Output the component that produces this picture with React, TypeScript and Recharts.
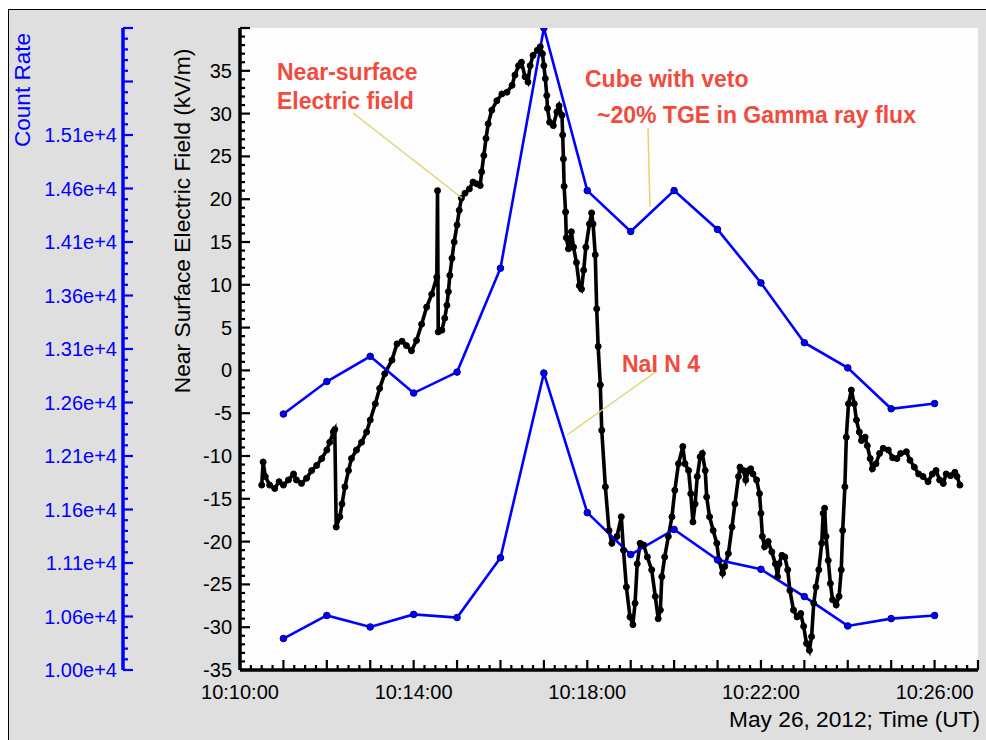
import React from 'react';
import { LineChart, Line, XAxis, YAxis, CartesianGrid } from 'recharts';

// Near-surface electric field samples: [seconds after 10:10:00, kV/m]
const FIELD_SAMPLES: [number, number][] = [
  [30, -13.4], [32, -10.7], [35, -12.4], [41, -13.4], [48, -13.8], [54, -13.0], [60, -13.4], [67, -12.8],
  [74, -12.1], [78, -12.8], [85, -13.2], [92, -12.6], [99, -11.7], [106, -11.1], [113, -10.3], [120, -9.3],
  [124, -8.4], [129, -7.2], [131, -6.9], [133, -18.3], [138, -17.1], [141, -15.6], [145, -13.6], [150, -11.7],
  [154, -10.3], [161, -9.3], [168, -8.4], [175, -7.2], [180, -5.8], [187, -3.9], [193, -2.1], [200, -0.4],
  [210, 1.2], [217, 3.1], [224, 3.4], [230, 2.9], [237, 2.3], [244, 3.5], [251, 5.4], [258, 7.4],
  [265, 8.9], [272, 10.9], [273, 21.0], [274, 4.5], [279, 4.7], [283, 6.1], [286, 7.6], [288, 9.2],
  [290, 11.1], [293, 13.1], [296, 15.0], [300, 17.0], [303, 18.7], [306, 20.1], [311, 20.7], [317, 21.2],
  [322, 22.0], [327, 21.8], [332, 21.6], [334, 23.2], [337, 25.1], [340, 27.1], [343, 28.8], [348, 30.4],
  [355, 31.5], [362, 32.3], [369, 32.5], [376, 33.3], [380, 34.5], [385, 35.6], [389, 36.0], [394, 34.3],
  [398, 33.7], [401, 35.6], [405, 36.8], [411, 37.4], [415, 37.8], [418, 37.0], [420, 35.6], [422, 34.1],
  [424, 32.1], [425, 30.6], [428, 29.0], [433, 28.6], [438, 30.2], [441, 30.9], [445, 29.8], [446, 27.5],
  [447, 24.7], [448, 21.5], [450, 18.5], [451, 15.5], [454, 14.2], [458, 16.2], [461, 14.4], [465, 12.6],
  [469, 9.9], [472, 9.5], [475, 11.7], [478, 14.4], [483, 17.1], [486, 18.4], [488, 17.1], [491, 13.5],
  [493, 7.2], [495, 2.8], [498, -1.7], [500, -7.0], [505, -13.6], [510, -18.7], [514, -20.2], [521, -19.4],
  [527, -17.1], [530, -21.0], [534, -25.3], [539, -28.8], [543, -29.7], [546, -27.2], [549, -22.6], [553, -20.2],
  [558, -20.4], [563, -21.8], [569, -23.3], [574, -26.4], [578, -29.0], [581, -28.0], [583, -24.1], [587, -21.8],
  [592, -19.4], [597, -17.1], [601, -14.0], [606, -10.9], [612, -8.9], [615, -10.9], [620, -11.7], [623, -14.4],
  [626, -17.7], [629, -15.6], [632, -12.4], [636, -10.1], [639, -9.7], [643, -11.7], [645, -14.8], [649, -17.1],
  [654, -18.7], [659, -20.2], [662, -22.2], [667, -23.7], [670, -22.9], [675, -21.4], [680, -18.3], [684, -15.6],
  [689, -12.4], [691, -11.3], [696, -11.7], [699, -12.8], [703, -11.7], [706, -11.5], [709, -12.1], [714, -12.8],
  [718, -14.4], [720, -16.7], [722, -19.4], [725, -20.6], [730, -20.0], [735, -21.2], [740, -22.6], [743, -24.1],
  [745, -22.6], [749, -21.6], [753, -21.8], [757, -23.3], [760, -25.7], [765, -28.0], [770, -28.8], [775, -28.4],
  [779, -29.9], [783, -31.9], [787, -32.7], [790, -31.1], [793, -27.2], [796, -25.3], [800, -23.3], [804, -20.2],
  [806, -16.7], [808, -16.1], [810, -19.4], [813, -22.2], [816, -24.9], [819, -26.8], [824, -27.4], [828, -26.4],
  [831, -23.3], [833, -18.7], [836, -13.6], [838, -7.8], [841, -3.9], [845, -2.3], [849, -3.9], [852, -5.8],
  [856, -7.2], [859, -8.2], [864, -7.8], [867, -8.8], [871, -10.3], [874, -11.5], [879, -10.9], [884, -9.7],
  [889, -9.1], [896, -9.3], [902, -10.2], [908, -10.3], [913, -9.7], [921, -9.5], [926, -10.5], [932, -11.3],
  [938, -12.1], [944, -12.4], [951, -13.0], [957, -12.1], [962, -11.7], [967, -12.8], [972, -13.2], [976, -12.1],
  [982, -12.3], [988, -11.9], [991, -12.4], [995, -13.4],
];

// One-minute count rates (seconds after 10:10:00)
const COUNT_TIMES = [60, 120, 180, 240, 300, 360, 420, 480, 540, 600, 660, 720, 780, 840, 900, 960];
const CUBE_COUNTS = [12440, 12750, 12990, 12640, 12840, 13830, 16120, 14570, 14180, 14570, 14200, 13690, 13120, 12880, 12490, 12540];
const NAI_COUNTS = [10300, 10520, 10410, 10530, 10500, 11070, 12830, 11500, 11100, 11340, 11050, 10960, 10700, 10420, 10490, 10520];

const TIME_LABELS = ['10:10:00', '10:14:00', '10:18:00', '10:22:00', '10:26:00'];
const COUNT_LABELS = ['1.00e+4', '1.06e+4', '1.11e+4', '1.16e+4', '1.21e+4', '1.26e+4', '1.31e+4', '1.36e+4', '1.41e+4', '1.46e+4', '1.51e+4'];

const COUNT_MIN = 10000;
const COUNT_MAJOR = 510;
const COUNT_MAX = COUNT_MIN + 12 * COUNT_MAJOR;

const fieldData = FIELD_SAMPLES.map(([t, e]) => ({ t, e }));
const cubeData = COUNT_TIMES.map((t, i) => ({ t, c: CUBE_COUNTS[i] }));
const naiData = COUNT_TIMES.map((t, i) => ({ t, c: NAI_COUNTS[i] }));

const timeTicks: number[] = [];
for (let s = 0; s <= 1020; s += 15) timeTicks.push(s);
const fieldTicks: number[] = [];
for (let v = -35; v <= 40; v += 1) fieldTicks.push(v);
const countTicks: number[] = [];
for (let k = 0; k <= 60; k += 1) countTicks.push(COUNT_MIN + k * (COUNT_MAJOR / 5));

const FONT = '"Liberation Sans", Arial, Helvetica, sans-serif';
const RED = '#f04b3d';
const LEADER = '#e2d46c';
const BLUE = '#0000ff';

const TimeTick = (props: any) => {
  const { x, y, payload } = props;
  const v = payload.value as number;
  const major = v % 60 === 0;
  const lbl = v % 240 === 0 ? TIME_LABELS[v / 240] : undefined;
  return (
    <g>
      <line x1={x} x2={x} y1={y} y2={y - (major ? 10 : 5)} stroke="#000" strokeWidth={2.2} />
      {lbl && (
        <text x={x} y={y + 29} textAnchor="middle" fontSize={20} fontFamily={FONT} fill="#000">{lbl}</text>
      )}
    </g>
  );
};

const FieldTick = (props: any) => {
  const { x, y, payload } = props;
  const v = Math.round(payload.value as number);
  const major = v % 5 === 0;
  return (
    <g>
      <line x1={x} x2={x + (major ? 10 : 5)} y1={y} y2={y} stroke="#000" strokeWidth={2.2} />
      {major && v <= 35 && (
        <text x={x - 8} y={y + 7} textAnchor="end" fontSize={20} fontFamily={FONT} fill="#000">{String(v)}</text>
      )}
    </g>
  );
};

const CountTick = (props: any) => {
  const { x, y, payload } = props;
  const k = Math.round(((payload.value as number) - COUNT_MIN) / (COUNT_MAJOR / 5));
  const major = k % 5 === 0;
  const lbl = major ? COUNT_LABELS[k / 5] : undefined;
  return (
    <g>
      <line x1={x} x2={x + (major ? 10 : 5)} y1={y} y2={y} stroke={BLUE} strokeWidth={2.2} />
      {lbl && (
        <text x={x - 6} y={y + 7} textAnchor="end" fontSize={20} fontFamily={FONT} fill={BLUE}>{lbl}</text>
      )}
    </g>
  );
};

export default function App() {
  const W = 977;
  const H = 730;
  return (
    <div
      style={{
        position: 'absolute',
        left: 8,
        top: 9,
        width: 978,
        height: 731,
        boxSizing: 'border-box',
        borderTop: '1px solid #000',
        borderLeft: '1px solid #000',
        background: '#dfdfdf',
        fontFamily: FONT,
        overflow: 'hidden',
      }}
    >
      <div style={{ position: 'absolute', left: 0, top: 0 }}>
        <LineChart width={W} height={H} margin={{ top: 18, right: 8, bottom: 0, left: 0 }}>
          <CartesianGrid horizontal={false} vertical={false} fill="#fdfdfd" stroke="none" yAxisId="a" />
          <XAxis
            dataKey="t"
            type="number"
            domain={[0, 1020]}
            ticks={timeTicks}
            interval={0}
            allowDataOverflow
            height={70}
            tickSize={0}
            tickMargin={0}
            tickLine={false}
            axisLine={{ stroke: '#000', strokeWidth: 3.5 }}
            tick={<TimeTick />}
          />
          <YAxis
            yAxisId="a"
            type="number"
            domain={[-35, 40]}
            ticks={fieldTicks}
            interval={0}
            allowDataOverflow
            width={117}
            tickSize={0}
            tickMargin={0}
            tickLine={false}
            axisLine={{ stroke: '#000', strokeWidth: 3.5 }}
            tick={<FieldTick />}
          />
          <YAxis
            yAxisId="b"
            type="number"
            domain={[COUNT_MIN, COUNT_MAX]}
            ticks={countTicks}
            interval={0}
            allowDataOverflow
            width={114}
            tickSize={0}
            tickMargin={0}
            tickLine={false}
            axisLine={{ stroke: BLUE, strokeWidth: 3.5 }}
            tick={<CountTick />}
          />
          <Line
            yAxisId="a"
            data={fieldData}
            dataKey="e"
            type="linear"
            stroke="#000"
            strokeWidth={3.6}
            dot={{ r: 3, fill: '#000', stroke: '#000', strokeWidth: 1 }}
            isAnimationActive={false}
          />
          <Line
            yAxisId="b"
            data={cubeData}
            dataKey="c"
            type="linear"
            stroke={BLUE}
            strokeWidth={2.6}
            dot={{ r: 3.3, fill: BLUE, stroke: '#00007a', strokeWidth: 1 }}
            isAnimationActive={false}
          />
          <Line
            yAxisId="b"
            data={naiData}
            dataKey="c"
            type="linear"
            stroke={BLUE}
            strokeWidth={2.6}
            dot={{ r: 3.3, fill: BLUE, stroke: '#00007a', strokeWidth: 1 }}
            isAnimationActive={false}
          />
        </LineChart>
      </div>
      <svg
        width={W}
        height={H}
        style={{ position: 'absolute', left: 0, top: 0, pointerEvents: 'none' }}
      >
        <text transform="translate(21,80) rotate(-90)" textAnchor="middle" fontSize={22.5} fontFamily={FONT} fill={BLUE}>Count Rate</text>
        <text transform="translate(181,211) rotate(-90)" textAnchor="middle" fontSize={22.8} fontFamily={FONT} fill="#000">Near Surface Electric Field (kV/m)</text>
        <text x={971} y={717} textAnchor="end" fontSize={22.7} fontFamily={FONT} fill="#000">May 26, 2012; Time (UT)</text>

        <line x1={344} y1={103} x2={453} y2={188} stroke={LEADER} strokeWidth={1.5} />
        <line x1={639} y1={118} x2={641} y2={197} stroke={LEADER} strokeWidth={1.5} />
        <line x1={648} y1={361} x2={558} y2={425} stroke={LEADER} strokeWidth={1.5} />

        <text x={268} y={70} fontSize={23} fontWeight="bold" fontFamily={FONT} fill={RED}>Near-surface</text>
        <text x={268} y={99} fontSize={23} fontWeight="bold" fontFamily={FONT} fill={RED}>Electric field</text>
        <text x={576} y={77} fontSize={23} fontWeight="bold" fontFamily={FONT} fill={RED}>Cube with veto</text>
        <text x={588} y={113} fontSize={23} fontWeight="bold" fontFamily={FONT} fill={RED}>~20% TGE in Gamma ray flux</text>
        <text x={613} y={362} fontSize={23} fontWeight="bold" fontFamily={FONT} fill={RED}>NaI N 4</text>
      </svg>
    </div>
  );
}
